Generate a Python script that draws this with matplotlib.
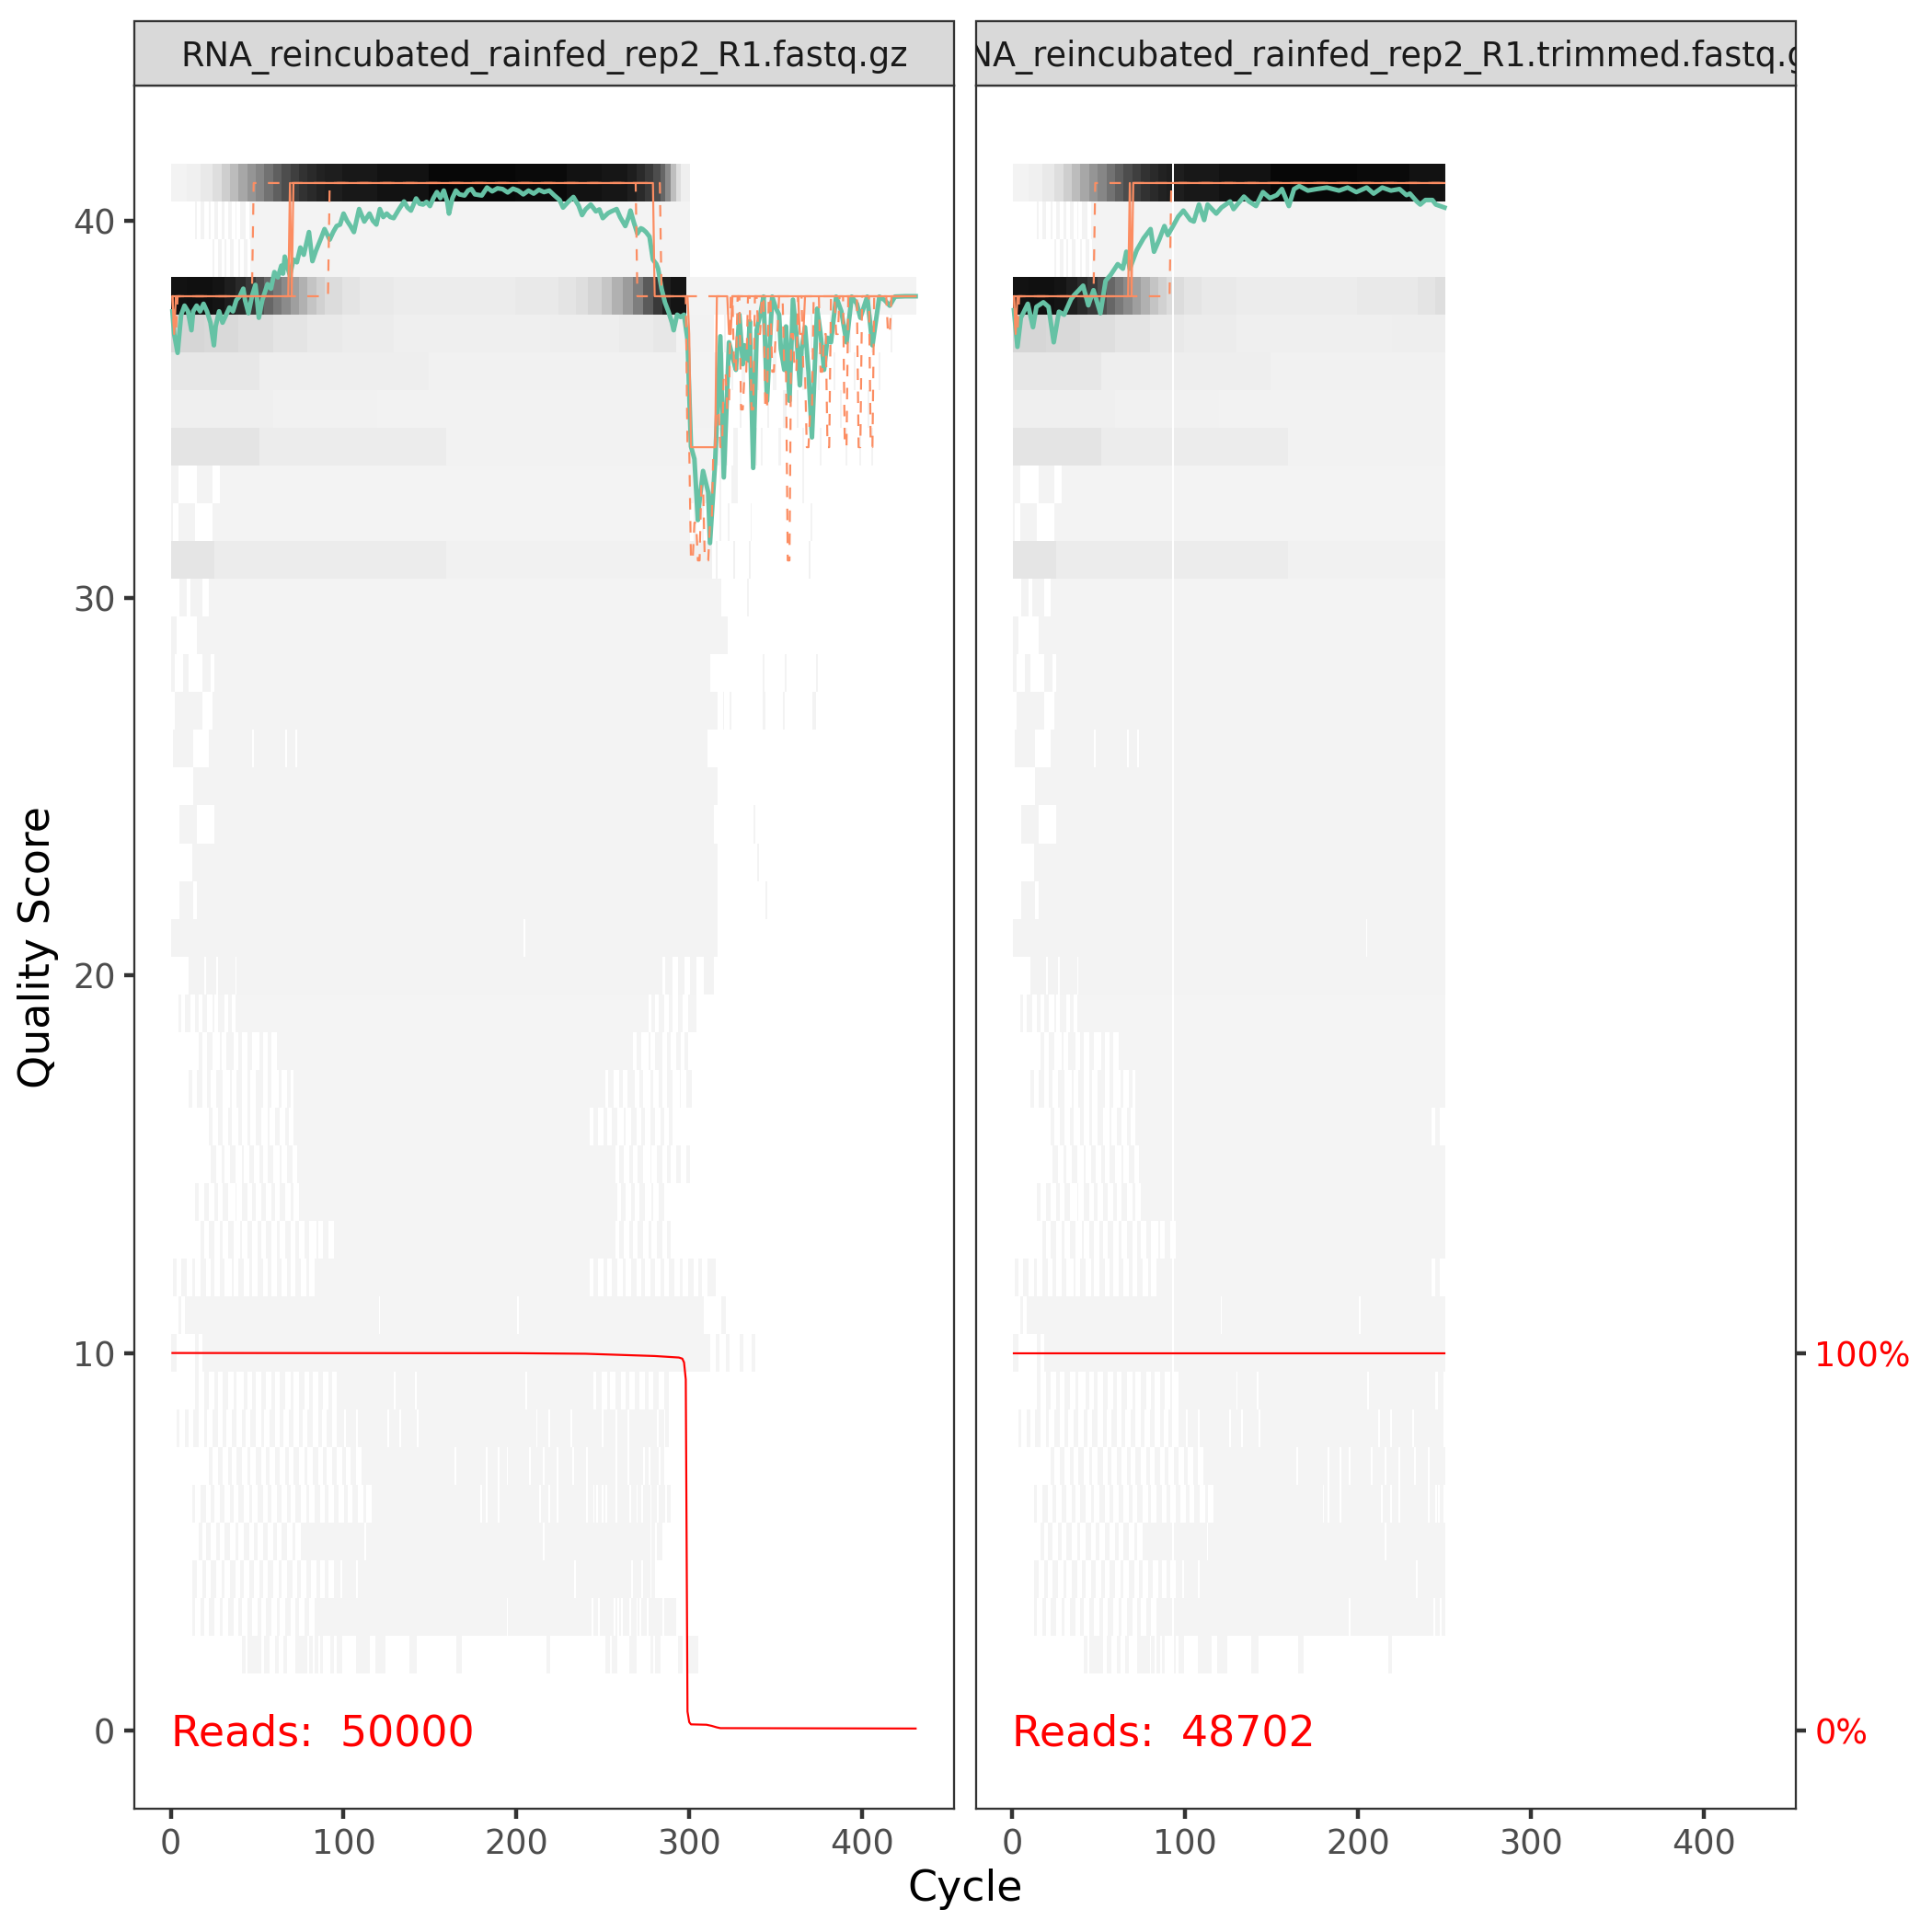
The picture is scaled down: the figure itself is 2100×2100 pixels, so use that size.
import numpy as np
import matplotlib
matplotlib.use("Agg")
import matplotlib.pyplot as plt
from matplotlib.patches import Rectangle
from matplotlib.transforms import offset_copy

# ------------------------------------------------------------------ data
FILES = ["RNA_reincubated_rainfed_rep2_R1.fastq.gz",
         "RNA_reincubated_rainfed_rep2_R1.trimmed.fastq.gz"]
READS = [50000, 48702]
N_CYCLES = [431, 250]
X_TICKS = [0, 100, 200, 300, 400]
Y_TICKS = [0, 10, 20, 30, 40]
SEC_TICKS = [0, 10]
SEC_LABELS = ["0%", "100%"]

# mean quality per cycle (cycle, mean) -- raw file
MEAN_RAW = [
    (1, 37.6), (2, 37.0), (4, 36.5), (6, 37.5), (8, 37.75), (10, 37.6), (12, 37.1), (13, 37.6),
    (15, 37.75), (17, 37.6), (19, 37.8), (21, 37.6), (23, 37.3), (25, 36.7), (26, 37.2), (28, 37.6),
    (30, 37.3), (32, 37.5), (34, 37.7), (36, 37.6), (38, 37.9), (40, 38.0), (42, 38.2), (43, 37.9),
    (45, 37.55), (47, 38.0), (49, 38.3), (50, 37.9), (51, 37.43), (53, 37.9), (56, 38.32), (58, 38.2),
    (60, 38.64), (62, 38.5), (64, 38.81), (65, 38.6), (66, 39.05), (68, 38.7), (69, 38.56), (71, 38.97),
    (73, 38.9), (75, 39.29), (77, 39.1), (80, 39.7), (82, 38.93), (84, 39.2), (87, 39.54), (89, 39.78),
    (92, 39.5), (94, 39.7), (96, 39.86), (98, 39.9), (100, 40.19), (102, 40.0), (104, 39.86), (106, 39.7),
    (109, 40.31), (112, 39.98), (115, 40.19), (117, 40.0), (119, 39.9), (121, 40.31), (123, 40.1),
    (125, 40.19), (127, 40.1), (129, 40.07), (132, 40.3), (135, 40.51), (137, 40.35), (139, 40.27),
    (142, 40.59), (144, 40.45), (146, 40.43), (148, 40.5), (150, 40.39), (152, 40.6), (154, 40.76),
    (156, 40.6), (158, 40.8), (160, 40.5), (161, 40.19), (163, 40.6), (165, 40.8), (167, 40.7),
    (170, 40.67), (172, 40.8), (174, 40.84), (176, 40.7), (180, 40.67), (183, 40.88), (186, 40.78),
    (189, 40.86), (192, 40.84), (195, 40.75), (198, 40.85), (201, 40.8), (204, 40.7), (207, 40.8),
    (210, 40.72), (213, 40.82), (216, 40.76), (219, 40.8), (222, 40.67), (225, 40.55), (227, 40.35),
    (230, 40.5), (233, 40.63), (236, 40.4), (238, 40.15), (240, 40.3), (243, 40.43), (246, 40.25),
    (248, 40.3), (250, 40.07), (253, 40.2), (255, 40.25), (258, 40.31), (260, 40.1), (263, 39.86),
    (265, 40.1), (266, 40.27), (268, 39.95), (270, 39.66), (272, 39.8), (273, 39.78), (275, 39.7),
    (277, 39.58), (279, 38.97), (281, 38.85), (282, 38.73), (284, 38.2), (286, 37.83), (288, 37.59),
    (290, 37.3), (291, 37.1), (293, 37.51), (295, 37.45), (297, 37.51), (299, 36.86), (301, 34.02),
    (303, 33.69), (305, 32.07), (306, 32.6), (308, 33.37), (311, 32.8), (312, 31.46), (315, 33.61),
    (318, 36.94), (320, 33.2), (323, 36.78), (325, 36.4), (327, 36.05), (329, 37.51), (331, 36.2),
    (332, 36.7), (334, 36.3), (335, 37.34), (337, 33.45), (339, 37.1), (341, 37.5), (343, 37.99),
    (345, 35.23), (348, 37.99), (350, 37.7), (352, 37.51), (353, 36.6), (355, 36.05), (356, 37.2),
    (358, 35.23), (360, 37.91), (362, 37.0), (364, 35.64), (365, 36.6), (367, 37.18), (369, 36.0),
    (371, 34.26), (374, 37.67), (376, 37.0), (378, 36.05), (380, 36.9), (382, 36.78), (385, 37.99),
    (388, 37.6), (391, 36.78), (394, 37.99), (397, 37.8), (399, 37.43), (403, 37.99), (406, 36.7),
    (410, 37.99), (413, 37.9), (416, 37.75), (419, 37.99), (425, 38.0), (431, 38.0)]

# mean quality per cycle -- trimmed file
MEAN_TRIM = [
    (1, 37.63), (3, 36.66), (5, 37.43), (9, 37.8), (12, 37.18), (14, 37.72), (18, 37.84), (21, 37.72),
    (24, 36.78), (27, 37.59), (30, 37.51), (34, 37.92), (36, 38.04), (41, 38.28), (44, 37.76),
    (47, 38.16), (51, 37.55), (54, 38.41), (57, 38.57), (61, 38.85), (64, 38.73), (66, 39.18),
    (68, 38.73), (72, 39.22), (76, 39.54), (80, 39.78), (82, 39.18), (85, 39.5), (88, 39.86),
    (90, 39.62), (93, 39.86), (96, 40.11), (99, 40.27), (103, 40.02), (105, 39.98), (108, 40.43),
    (111, 40.02), (113, 40.43), (118, 40.19), (121, 40.35), (126, 40.51), (128, 40.31), (134, 40.64),
    (137, 40.51), (141, 40.39), (145, 40.76), (149, 40.6), (153, 40.68), (156, 40.84), (160, 40.39),
    (163, 40.84), (166, 40.92), (171, 40.8), (176, 40.84), (182, 40.88), (189, 40.8), (194, 40.88),
    (199, 40.76), (205, 40.88), (209, 40.72), (214, 40.88), (219, 40.8), (224, 40.84), (228, 40.68),
    (230, 40.72), (234, 40.51), (236, 40.43), (239, 40.55), (243, 40.55), (245, 40.43), (250, 40.35)]

# quartiles as step lists: (first cycle, score)
Q25_RAW = [(1, 38), (2, 37), (4, 38), (92, 41), (270, 38), (299, 34), (301, 31), (303, 32), (305, 31),
           (307, 33), (309, 31), (312, 32), (314, 34), (316, 35), (318, 34), (320, 36), (322, 35),
           (324, 38), (326, 36), (328, 38), (330, 35), (332, 36), (334, 38), (336, 35), (338, 38),
           (340, 37), (342, 38), (344, 35), (346, 38), (348, 36), (350, 37), (352, 38), (355, 36),
           (357, 31), (359, 37), (361, 36), (363, 38), (366, 36), (368, 34), (370, 35), (372, 38),
           (376, 36), (378, 37), (380, 34), (382, 38), (385, 37), (387, 38), (390, 34), (392, 38),
           (398, 34), (400, 38), (405, 34), (407, 38), (415, 37), (417, 38)]
Q50_RAW = [(1, 38), (2, 37), (3, 38), (69, 41), (70, 38), (71, 41), (280, 38), (300, 37), (301, 34),
           (316, 38), (323, 37), (325, 38), (364, 37), (367, 38)]
Q75_RAW = [(1, 38), (48, 41), (284, 38)]
Q25_TRIM = [(1, 38), (2, 37), (4, 38), (92, 41)]
Q50_TRIM = [(1, 38), (2, 37), (3, 38), (68, 41), (69, 38), (70, 41)]
Q75_TRIM = [(1, 38), (48, 41)]

# fraction of reads reaching each cycle
READS_FRAC_RAW = [(1, 1.0), (200, 0.9995), (240, 0.998), (260, 0.995), (280, 0.992), (294, 0.988),
                  (296, 0.985), (297, 0.975), (298, 0.93), (299, 0.05), (300, 0.022), (301, 0.016),
                  (310, 0.015), (313, 0.012), (316, 0.008), (318, 0.006), (431, 0.005)]
READS_FRAC_TRIM = [(1, 1.0), (250, 1.0)]

# heat-map tiles: cycles present for each quality score (raw file)
TILE_ROWS = {
    41: [(1, 300)],
    40: [(15, 15), (18, 19), (23, 23), (26, 27), (30, 31), (34, 35), (38, 38), (41, 43), (46, 300)],
    39: [(25, 25), (28, 29), (32, 32), (35, 36), (40, 40), (43, 44), (47, 300)],
    38: [(1, 431)],
    37: [(1, 314), (321, 321), (328, 328), (339, 340), (350, 350), (360, 361), (371, 371), (382, 382),
         (392, 393), (406, 406), (417, 417)],
    36: [(1, 320), (325, 325), (331, 332), (340, 340), (349, 350), (358, 358), (366, 367), (375, 375),
         (384, 384), (396, 396), (410, 410)],
    35: [(1, 316), (322, 322), (330, 330), (337, 338), (346, 346), (355, 356), (363, 363), (372, 372),
         (388, 388), (404, 404)],
    34: [(1, 322), (326, 328), (338, 339), (342, 342), (352, 353), (366, 366), (376, 376), (391, 391),
         (399, 399), (406, 406)],
    33: [(1, 4), (16, 24), (29, 314), (318, 318), (325, 328), (366, 366)],
    32: [(1, 1), (5, 14), (25, 300), (303, 304), (308, 308), (312, 313), (318, 318), (323, 323),
         (336, 336), (371, 371)],
    31: [(1, 313), (316, 316), (326, 326), (335, 335), (370, 370)],
    30: [(6, 9), (12, 18), (23, 318), (334, 334)],
    29: [(1, 3), (16, 322)],
    28: [(1, 2), (8, 10), (19, 23), (26, 312), (343, 343), (356, 356), (374, 374)],
    27: [(3, 18), (25, 316), (320, 320), (324, 324), (343, 344), (355, 355), (372, 373)],
    26: [(2, 13), (23, 47), (49, 66), (68, 72), (74, 310)],
    25: [(14, 316)],
    24: [(6, 15), (26, 314), (338, 338)],
    23: [(13, 316), (340, 340)],
    22: [(6, 13), (16, 316), (345, 345)],
    21: [(1, 204), (206, 316)],
    20: [(11, 19), (21, 26), (28, 37), (39, 284), (287, 290), (294, 297), (301, 304), (309, 314)],
    19: [(5, 6), (9, 11), (15, 16), (19, 21), (25, 25), (28, 31), (34, 35), (38, 276), (279, 280),
         (283, 285), (289, 290), (294, 296), (300, 304)],
    18: [(17, 18), (22, 24), (29, 29), (33, 36), (40, 41), (45, 47), (52, 53), (57, 58), (62, 267),
         (270, 272), (277, 277), (281, 284), (288, 289), (293, 295), (298, 299)],
    17: [(11, 12), (16, 18), (22, 23), (27, 30), (35, 35), (39, 41), (45, 46), (50, 53), (57, 58),
         (63, 64), (68, 69), (72, 251), (254, 256), (260, 261), (265, 268), (272, 273), (278, 279),
         (283, 284), (288, 290), (295, 295), (299, 301)],
    16: [(23, 24), (28, 30), (34, 35), (40, 41), (45, 46), (50, 52), (57, 57), (61, 63), (67, 68),
         (72, 242), (245, 247), (251, 252), (256, 258), (263, 263), (267, 269), (273, 274), (278, 280),
         (284, 285), (289, 290)],
    15: [(24, 26), (30, 31), (35, 37), (42, 42), (46, 48), (52, 53), (57, 59), (64, 64), (68, 70),
         (74, 257), (260, 262), (266, 267), (271, 273), (278, 278), (282, 284), (288, 289), (293, 295),
         (299, 300)],
    14: [(15, 16), (20, 22), (26, 27), (31, 33), (38, 38), (42, 44), (48, 49), (53, 55), (59, 60),
         (64, 66), (70, 71), (75, 258), (261, 263), (267, 268), (272, 274), (279, 279), (283, 285)],
    13: [(18, 19), (23, 25), (29, 30), (34, 36), (41, 41), (45, 47), (51, 52), (56, 58), (62, 63),
         (67, 69), (73, 74), (78, 80), (85, 85), (89, 91), (95, 257), (260, 262), (266, 267),
         (271, 273), (277, 278), (282, 284), (288, 289)],
    12: [(2, 3), (7, 9), (13, 14), (18, 20), (24, 25), (29, 31), (36, 36), (40, 42), (46, 47), (51, 53),
         (57, 58), (62, 64), (68, 69), (73, 75), (79, 80), (84, 242), (245, 247), (251, 252), (256, 258),
         (262, 263), (267, 269), (273, 274), (278, 280), (284, 285), (289, 291), (295, 296), (300, 302),
         (306, 307), (311, 315)],
    11: [(5, 6), (9, 120), (122, 200), (202, 308), (319, 321)],
    10: [(1, 3), (15, 16), (19, 312), (316, 317), (322, 323), (330, 331), (337, 338)],
    9: [(15, 16), (20, 22), (26, 27), (31, 33), (37, 38), (43, 44), (48, 49), (53, 55), (59, 60),
        (64, 66), (70, 71), (75, 77), (81, 82), (86, 88), (92, 93), (97, 244), (247, 249), (253, 254),
        (258, 260), (264, 265), (269, 271), (275, 276), (280, 282), (286, 288)],
    8: [(4, 5), (9, 10), (14, 16), (20, 21), (25, 27), (31, 32), (36, 38), (42, 43), (47, 49), (53, 54),
        (58, 60), (64, 65), (69, 71), (75, 76), (80, 82), (86, 87), (91, 93), (97, 288)],
    7: [(23, 24), (28, 30), (34, 35), (39, 41), (45, 46), (50, 52), (56, 57), (61, 63), (67, 68),
        (72, 74), (78, 79), (83, 85), (89, 90), (94, 96), (100, 101), (105, 107), (111, 285)],
    6: [(13, 14), (18, 20), (24, 25), (29, 31), (35, 36), (40, 42), (46, 47), (51, 53), (57, 58),
        (62, 64), (68, 69), (73, 75), (79, 80), (84, 86), (90, 91), (95, 97), (101, 102), (106, 108),
        (112, 113), (117, 289)],
    5: [(17, 18), (21, 23), (27, 28), (32, 34), (38, 39), (43, 45), (49, 50), (54, 56), (60, 61),
        (65, 67), (71, 72), (76, 284)],
    4: [(13, 15), (19, 20), (24, 26), (30, 31), (35, 37), (41, 42), (46, 48), (52, 53), (57, 59),
        (63, 64), (68, 70), (74, 75), (79, 81), (85, 86), (90, 91), (95, 280)],
    3: [(13, 14), (18, 19), (23, 25), (29, 30), (34, 36), (40, 41), (45, 47), (51, 52), (56, 58),
        (62, 63), (67, 69), (73, 74), (78, 80), (84, 292)],
    2: [(42, 43), (45, 48), (49, 52), (55, 57), (61, 62), (66, 67), (73, 79), (81, 82), (84, 85),
        (87, 88), (93, 94), (97, 99), (108, 115), (119, 121), (122, 124), (139, 140), (141, 142),
        (166, 168), (218, 219), (252, 254), (256, 258), (266, 269), (278, 279), (281, 283),
        (294, 296), (299, 305)],
}

# single cycles with no tile inside otherwise filled runs (raw file)
TILE_HOLES = {
    9: [130, 142, 206],
    8: [101, 108, 126, 133, 143, 212, 219, 232, 250, 258, 265, 282, 286],
    7: [165, 183, 190, 195, 208, 216, 224, 233, 241, 258, 265, 274, 277, 283],
    6: [180, 183, 190, 214, 219, 224, 241, 245, 247, 250, 252, 258, 266, 270, 273, 278, 282, 287],
    5: [113, 216, 278, 281],
    4: [99, 108, 234, 267, 273, 278],
    3: [195, 244, 248, 257, 259, 261, 266, 270, 272, 276, 285],
}

# relative tile count (0 = lowest count, 1 = highest) as step lists (first cycle, level)
TILE_LEVEL = {
    41: [(1, .005), (10, .015), (18, .04), (25, .08), (30, .14), (35, .21), (40, .29), (45, .36),
         (50, .42), (55, .5), (60, .58), (65, .66), (70, .72), (75, .78), (80, .82), (85, .86),
         (90, .88), (100, .91), (120, .94), (150, .98), (200, .97), (230, .94), (250, .92), (265, .88),
         (270, .82), (275, .75), (280, .66), (284, .55), (287, .4), (290, .2), (293, .08), (296, .02)],
    38: [(1, .94), (10, .95), (25, .93), (32, .88), (38, .82), (44, .75), (50, .65), (55, .55),
         (60, .47), (65, .4), (70, .32), (75, .25), (80, .18), (85, .13), (90, .09), (100, .06),
         (110, .04), (130, .03), (200, .04), (225, .06), (235, .08), (242, .12), (250, .17),
         (256, .25), (262, .33), (268, .45), (274, .6), (280, .75), (285, .87), (290, .93), (299, .006)],
    37: [(1, .11), (20, .1), (40, .08), (60, .06), (80, .04), (100, .03), (130, .02), (220, .025),
         (260, .035), (280, .05), (293, .01)],
    36: [(1, .05), (52, .025), (150, .012), (298, .006)],
    35: [(1, .02), (60, .012), (120, .008)],
    34: [(1, .06), (52, .03), (160, .01), (300, .006)],
    31: [(1, .055), (26, .03), (160, .012)],
}
TILE_LEVEL_TRIM_38 = [(200, .04), (235, .06), (245, .08)]
TRIM_EMPTY_CYCLES = [93]


# ------------------------------------------------------------------ helpers
def step_series(steps, n, default=0.0):
    out = np.full(n, default, float)
    for i, (c, v) in enumerate(steps):
        if c > n:
            break
        end = steps[i + 1][0] if i + 1 < len(steps) else n + 1
        out[c - 1:min(end, n + 1) - 1] = v
    return out


def level_to_grey(t):
    # ggplot scale_fill_gradient('#F5F5F5' -> 'black') interpolates in Lab
    t = np.asarray(t, float)
    L = 96.54 * (1 - t)
    Y = np.where(L > 8, ((L + 16) / 116) ** 3, L / 903.3)
    v = np.where(Y <= 0.0031308, 12.92 * Y, 1.055 * np.power(np.clip(Y, 1e-12, None), 1 / 2.4) - 0.055)
    return np.clip(v, 0, 1)


def default_level(score):
    if score >= 39:
        return 0.004
    if score >= 20:
        return 0.006
    return 0.003


def build_tiles(n, trimmed=False):
    img = np.ones((42, n, 3))
    cyc = np.arange(1, n + 1)
    for s, segs in TILE_ROWS.items():
        if s in TILE_LEVEL:
            lev = step_series(TILE_LEVEL[s], n, default_level(s))
        else:
            lev = np.full(n, default_level(s))
        if trimmed and s == 38:
            lev2 = step_series(TILE_LEVEL_TRIM_38, n, np.nan)
            lev = np.where(np.isnan(lev2) | (cyc < TILE_LEVEL_TRIM_38[0][0]), lev, lev2)
        g = level_to_grey(lev)
        for a, b in segs:
            a = max(a, 1)
            b = min(b, n)
            if a > b:
                continue
            img[s, a - 1:b, :] = g[a - 1:b, None]
        for c in TILE_HOLES.get(s, []):
            if c <= n:
                img[s, c - 1, :] = 1.0
    if trimmed:
        for c in TRIM_EMPTY_CYCLES:
            img[:, c - 1, :] = 1.0
    return img


# ------------------------------------------------------------------ figure
W = H = 2100
DPI = 300
plt.rcParams["font.family"] = ["DejaVu Sans"]
fig = plt.figure(figsize=(W / DPI, H / DPI), dpi=DPI, facecolor="white")

px = lambda v: v / W
panel_x = [(146.0, 1036.7), (1060.7, 1951.7)]
panel_top, panel_bot = 93.3, 1966.0
strip_top = 23.3

XLIM = (-21.05, 453.05)
YLIM = (-2.075, 43.575)

GREEN = "#66C2A5"
ORANGE = "#FC8D62"
TICK_C = "#333333"
LAB_C = "#4D4D4D"
LW_MAIN = 1.2
LW_TICK = 1.07
LW_THIN = 0.53
DASH = (0, (3.0 / LW_THIN, 3.0 / LW_THIN))

means = [MEAN_RAW, MEAN_TRIM]
q25s = [Q25_RAW, Q25_TRIM]
q50s = [Q50_RAW, Q50_TRIM]
q75s = [Q75_RAW, Q75_TRIM]
reads_frac = [READS_FRAC_RAW, READS_FRAC_TRIM]

for i in range(2):
    x0, x1 = panel_x[i]
    ax = fig.add_axes([px(x0), 1 - panel_bot / H, px(x1 - x0), (panel_bot - panel_top) / H])
    n = N_CYCLES[i]
    img = build_tiles(n, trimmed=(i == 1))
    ax.imshow(img, extent=(0.5, n + 0.5, -0.5, 41.5), origin="lower", aspect="auto",
              interpolation="nearest", zorder=1)

    mc, mv = zip(*means[i])
    ax.plot(mc, mv, color=GREEN, lw=LW_MAIN, zorder=3, solid_joinstyle="round")
    cyc = np.arange(1, n + 1)
    ax.plot(cyc, step_series(q25s[i], n), color=ORANGE, lw=LW_THIN, ls=DASH, zorder=4)
    ax.plot(cyc, step_series(q50s[i], n), color=ORANGE, lw=LW_THIN, zorder=4)
    ax.plot(cyc, step_series(q75s[i], n), color=ORANGE, lw=LW_THIN, ls=DASH, zorder=4)

    rc, rv = zip(*reads_frac[i])
    ax.plot(rc, np.array(rv) * 10, color="red", lw=LW_THIN, zorder=5)

    tr = offset_copy(ax.transData, fig=fig, x=0, y=-11 * 0.729 / 2, units="points")
    ax.text(0, 0, "Reads:  %d" % READS[i], color="red", fontsize=11, ha="left", va="baseline",
            transform=tr, zorder=6)

    ax.set_xlim(*XLIM)
    ax.set_ylim(*YLIM)
    ax.set_facecolor("white")
    for sp in ax.spines.values():
        sp.set_color(TICK_C)
        sp.set_linewidth(0.55)
        sp.set_zorder(10)

    ax.set_xticks(X_TICKS)
    ax.set_xticklabels([str(v) for v in X_TICKS])
    ax.tick_params(axis="both", length=2.75, width=LW_TICK, color=TICK_C, labelsize=8.8,
                   labelcolor=LAB_C, pad=2.2)
    if i == 0:
        ax.set_yticks(Y_TICKS)
        ax.set_yticklabels([str(v) for v in Y_TICKS])
    else:
        ax.yaxis.tick_right()
        ax.set_yticks(SEC_TICKS)
        ax.set_yticklabels(SEC_LABELS)
        for lab in ax.get_yticklabels():
            lab.set_color("red")

    # strip
    rect = Rectangle((px(x0), 1 - panel_top / H), px(x1 - x0), (panel_top - strip_top) / H,
                     transform=fig.transFigure, facecolor="#D9D9D9", edgecolor=TICK_C,
                     linewidth=0.55, zorder=2)
    fig.add_artist(rect)
    cap = 8.8 * 0.729 / 72 * DPI
    yb = (strip_top + panel_top) / 2 + cap / 2
    t = fig.text(px((x0 + x1) / 2), 1 - yb / H, FILES[i], fontsize=8.8, color="#1A1A1A",
                 ha="center", va="baseline", zorder=3)
    t.set_clip_path(rect)

fig.text(px(42), 1 - ((panel_top + panel_bot) / 2) / H, "Quality Score", rotation=90,
         fontsize=11, ha="center", va="center", color="black")
fig.text(px((panel_x[0][0] + panel_x[1][1]) / 2), 1 - 2053 / H, "Cycle", fontsize=11,
         ha="center", va="center", color="black")

fig.savefig("out.png", dpi=DPI, facecolor="white")
